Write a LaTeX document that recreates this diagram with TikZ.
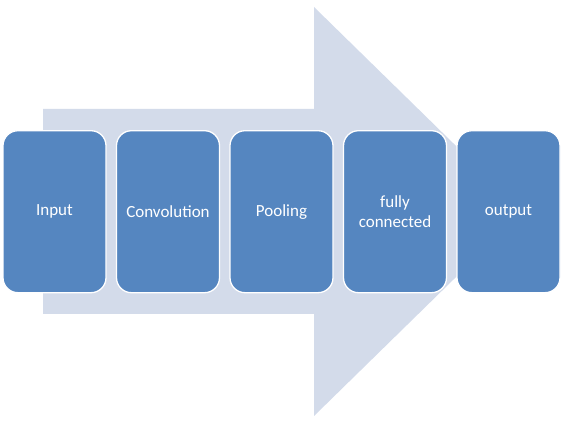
\documentclass[tikz,border=0pt]{standalone}
\usepackage{fontspec}
\setmainfont{Carlito}
\usetikzlibrary{positioning}

\definecolor{stagefill}{HTML}{5586C0}
\definecolor{flowfill}{HTML}{D3DBEA}

\tikzset{
	stage/.style={draw=white, line width=1.3pt, fill=stagefill, rounded corners=15pt,
		minimum width=103pt, minimum height=162pt, inner sep=0pt,
		text=white, align=center, font=\fontsize{17}{20}\selectfont},
}

\begin{document}
\begin{tikzpicture}[x=1pt, y=-1pt]
	\useasboundingbox (0,0) rectangle (566,425);

	% the big arrow behind
		\fill[flowfill] (43,109) -- (314,109) -- (314,7) -- (523,211.5)
			-- (314,416) -- (314,314) -- (43,314) -- cycle;

	% the stages
		\node[stage] (input) at (54.5,211.7) {Input};
		\node[stage, right=9.2pt of input] (conv) {Convolution};
		\node[stage, right=9.2pt of conv] (pool) {Pooling};
		\node[stage, right=9.2pt of pool] (fc) {fully\\connected};
		\node[stage, right=9.2pt of fc] (output) {output};
\end{tikzpicture}
\end{document}
